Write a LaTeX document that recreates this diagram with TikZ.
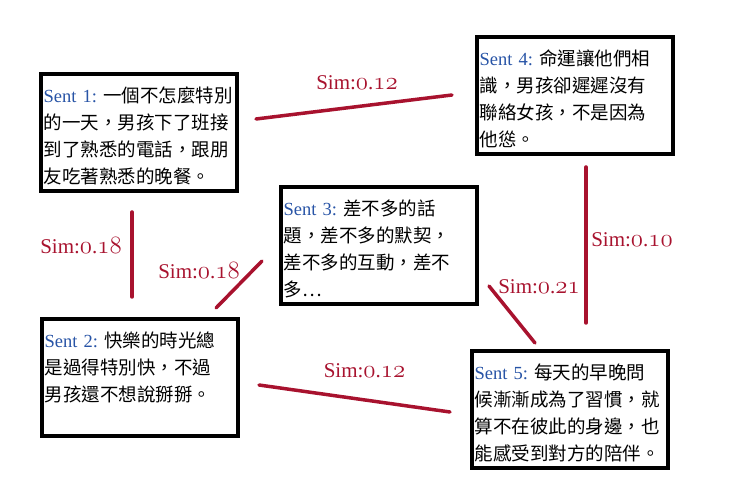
\documentclass[tikz,border=0pt]{standalone}
\usepackage{fontspec}
\setmainfont{Liberation Serif}
\newfontfamily\cjk{Noto Sans CJK TC}
\usetikzlibrary{positioning, calc}
\definecolor{simred}{RGB}{168,18,46}
\definecolor{sentblue}{RGB}{40,84,166}
\newcommand{\sentno}[1]{{\rmfamily\fontsize{18.5}{26.7}\selectfont\color{sentblue}Sent #1:\ }}
\newcommand{\simval}[2]{Sim:{\fontsize{24}{26}\selectfont$\mathnormal{#1}$}.{\fontsize{24}{26}\selectfont$\mathnormal{#2}$}}
\tikzstyle{SentBox} = [
draw, line width=4pt,
anchor=north west, align=left,
text width=191pt, inner xsep=2.5pt, inner ysep=5pt,
text height=24pt, text depth=83pt,
font=\cjk\fontsize{18.5}{26.7}\selectfont]
\tikzstyle{SimLine} = [
draw=simred, line width=3.5pt, line cap=round]
\tikzstyle{SimLabel} = [
text=simred, inner sep=0pt,
font=\rmfamily\fontsize{21}{26}\selectfont]

\begin{document}
\begin{tikzpicture}[x=1pt, y=1pt]
    \useasboundingbox (0,0) rectangle (741,498);
    \node [SentBox] (1) at (39,426) {\sentno{1}一個不怎麼特別\\的一天，男孩下了班接\\到了熟悉的電話，跟朋\\友吃著熟悉的晚餐。};
    \node [SentBox] (2) at (40,181) {\sentno{2}快樂的時光總\\是過得特別快，不過\\男孩還不想說掰掰。};
    \node [SentBox] (3) at (279,313) {\sentno{3}差不多的話\\題，差不多的默契，\\差不多的互動，差不\\多…};
    \node [SentBox] (4) at (475,463) {\sentno{4}命運讓他們相\\識，男孩卻遲遲沒有\\聯絡女孩，不是因為\\他慫。};
    \node [SentBox] (5) at (470,149) {\sentno{5}每天的早晚問\\候漸漸成為了習慣，就\\算不在彼此的身邊，也\\能感受到對方的陪伴。};
    \draw[SimLine] ([shift={(17,13.5)}]1.east) -- ([shift={(-23,0.5)}]4.west)
        node[SimLabel, midway, xshift=3pt, yshift=24pt] (14) {\simval{0}{12}};
    \draw[SimLine] ([shift={(-7,-19)}]1.south) -- ([shift={(-8,20)}]2.north)
        node[SimLabel, midway, xshift=-51pt, yshift=8.5pt] (12) {\simval{0}{18}};
    \draw[SimLine] ([shift={(-24,9)}]2.north east) -- ([shift={(-17,-15.5)}]3.west)
        node[SimLabel, midway, xshift=-40pt, yshift=13.5pt] (23) {\simval{0}{18}};
    \draw[SimLine] ([shift={(11,-11)}]4.south) -- ([shift={(16,26)}]5.north)
        node[SimLabel, midway, xshift=46pt, yshift=5pt] (45) {\simval{0}{10}};
    \draw[SimLine] ([shift={(10,20)}]3.south east) -- ([shift={(65,6)}]5.north west)
        node[SimLabel, midway, xshift=27pt, yshift=27.5pt] (35) {\simval{0}{21}};
    \draw[SimLine] ([shift={(19,-7.5)}]2.east) -- ([shift={(-20,-2.5)}]5.west)
        node[SimLabel, midway, xshift=10pt, yshift=27.5pt] (25) {\simval{0}{12}};
\end{tikzpicture}
\end{document}
